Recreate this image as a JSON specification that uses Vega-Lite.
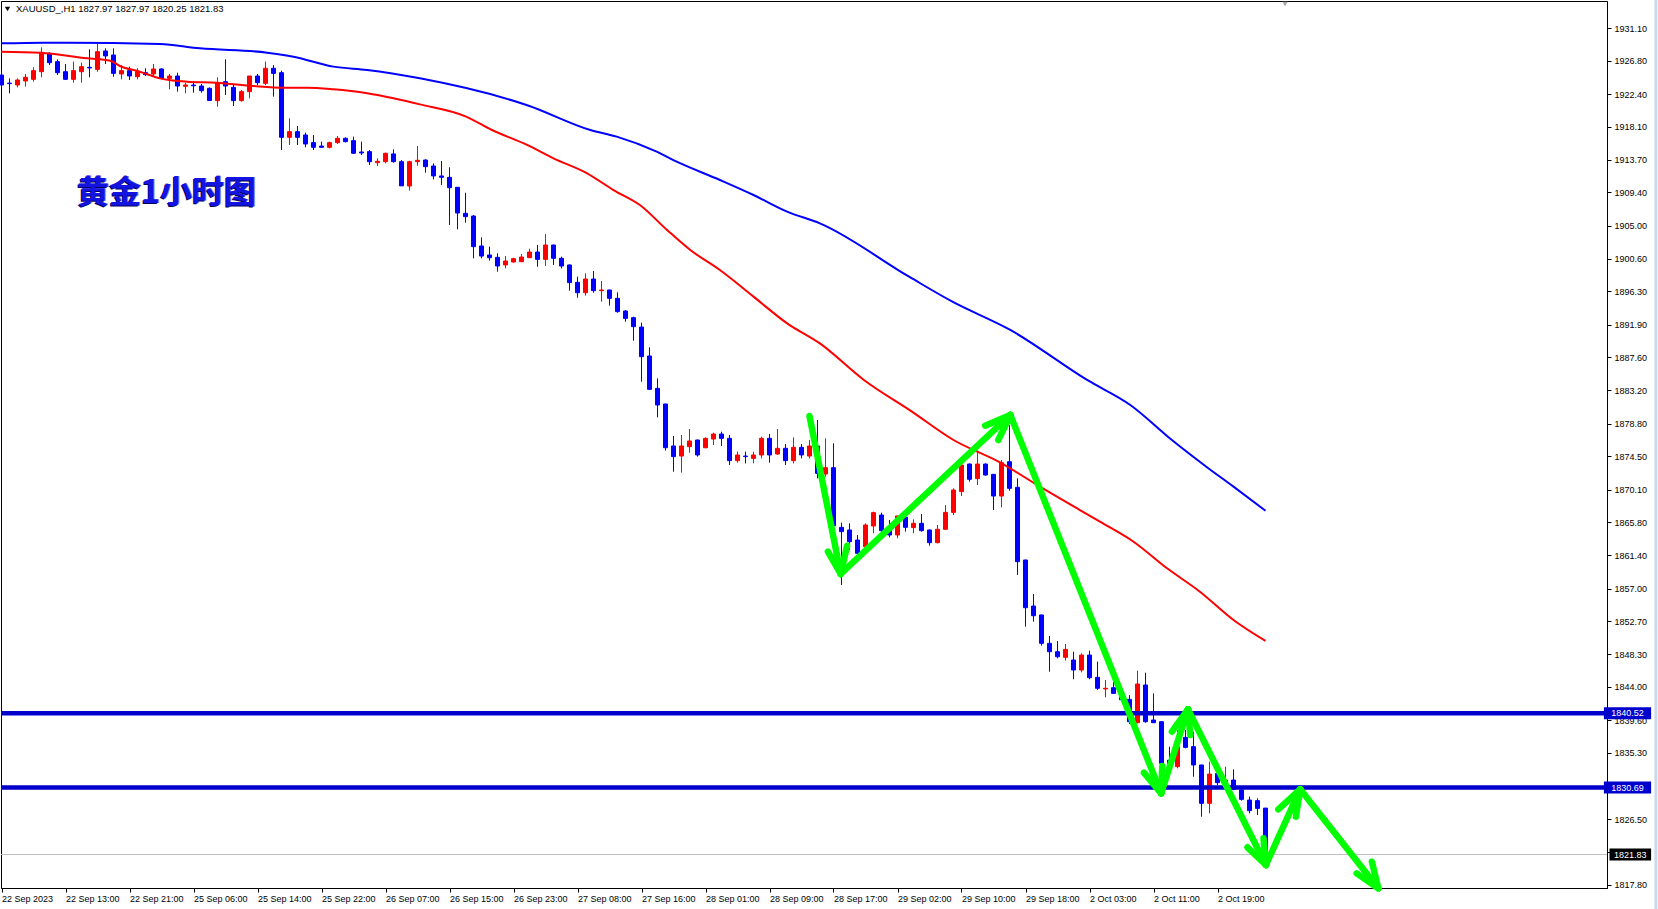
{
  "$schema": "https://vega.github.io/schema/vega-lite/v6.json",
  "width": 1606,
  "height": 887,
  "autosize": {"type": "none"},
  "padding": {"left": 1, "top": 1, "right": 51, "bottom": 21},
  "background": "white",
  "config": {
    "view": {"stroke": "black", "strokeWidth": 1},
    "scale": {"continuousPadding": 0},
    "axis": {"labelFont": "Liberation Sans", "labelFontSize": 9, "labelColor": "black", "domainColor": "black", "tickColor": "black", "grid": false, "title": null, "labelOverlap": false, "labelBound": false, "labelFlush": false}
  },
  "datasets": {
    "candles": [
      {"i":0,"o":1924.92,"h":1925.50,"l":1923.29,"c":1923.60},
      {"i":1,"o":1923.85,"h":1924.48,"l":1922.50,"c":1923.78},
      {"i":2,"o":1923.60,"h":1924.48,"l":1923.29,"c":1924.26},
      {"i":3,"o":1924.13,"h":1925.06,"l":1923.38,"c":1924.62},
      {"i":4,"o":1924.35,"h":1925.94,"l":1924.04,"c":1925.50},
      {"i":5,"o":1925.36,"h":1928.58,"l":1924.62,"c":1927.92},
      {"i":6,"o":1927.79,"h":1927.92,"l":1926.24,"c":1926.55},
      {"i":7,"o":1926.69,"h":1926.99,"l":1924.92,"c":1925.23},
      {"i":8,"o":1925.36,"h":1926.38,"l":1924.26,"c":1924.35},
      {"i":9,"o":1924.35,"h":1926.69,"l":1923.91,"c":1925.50},
      {"i":10,"o":1925.36,"h":1926.55,"l":1923.91,"c":1926.02},
      {"i":11,"o":1925.94,"h":1928.32,"l":1924.62,"c":1925.85},
      {"i":12,"o":1925.67,"h":1929.11,"l":1925.36,"c":1928.01},
      {"i":13,"o":1928.10,"h":1928.45,"l":1926.38,"c":1927.44},
      {"i":14,"o":1927.57,"h":1928.45,"l":1924.70,"c":1925.14},
      {"i":15,"o":1925.06,"h":1926.24,"l":1924.35,"c":1925.50},
      {"i":16,"o":1925.50,"h":1926.02,"l":1924.26,"c":1924.79},
      {"i":17,"o":1924.70,"h":1925.81,"l":1924.35,"c":1925.36},
      {"i":18,"o":1925.23,"h":1925.81,"l":1924.79,"c":1924.97},
      {"i":19,"o":1925.06,"h":1926.38,"l":1924.79,"c":1925.72},
      {"i":20,"o":1925.72,"h":1925.81,"l":1924.35,"c":1924.48},
      {"i":21,"o":1924.48,"h":1925.06,"l":1923.03,"c":1924.79},
      {"i":22,"o":1924.79,"h":1925.23,"l":1922.72,"c":1923.47},
      {"i":23,"o":1923.43,"h":1923.91,"l":1922.50,"c":1923.60},
      {"i":24,"o":1923.60,"h":1924.04,"l":1922.59,"c":1923.50},
      {"i":25,"o":1923.47,"h":1923.73,"l":1922.59,"c":1922.85},
      {"i":26,"o":1923.16,"h":1923.29,"l":1921.53,"c":1921.55},
      {"i":27,"o":1921.53,"h":1924.62,"l":1920.73,"c":1923.91},
      {"i":28,"o":1924.04,"h":1926.99,"l":1922.28,"c":1923.47},
      {"i":29,"o":1923.29,"h":1923.73,"l":1920.82,"c":1921.53},
      {"i":30,"o":1921.53,"h":1922.94,"l":1921.40,"c":1922.72},
      {"i":31,"o":1922.72,"h":1924.79,"l":1921.84,"c":1924.79},
      {"i":32,"o":1924.79,"h":1925.06,"l":1923.60,"c":1923.91},
      {"i":33,"o":1923.82,"h":1926.69,"l":1923.60,"c":1925.81},
      {"i":34,"o":1925.81,"h":1926.24,"l":1922.06,"c":1925.14},
      {"i":35,"o":1925.23,"h":1925.50,"l":1915.00,"c":1916.68},
      {"i":36,"o":1916.68,"h":1919.19,"l":1915.67,"c":1917.43},
      {"i":37,"o":1917.43,"h":1918.18,"l":1915.67,"c":1916.68},
      {"i":38,"o":1916.99,"h":1917.30,"l":1915.36,"c":1915.80},
      {"i":39,"o":1915.98,"h":1916.99,"l":1915.00,"c":1915.36},
      {"i":40,"o":1915.53,"h":1916.11,"l":1915.30,"c":1915.36},
      {"i":41,"o":1915.36,"h":1916.11,"l":1915.22,"c":1915.98},
      {"i":42,"o":1915.98,"h":1916.86,"l":1915.80,"c":1916.55},
      {"i":43,"o":1916.55,"h":1916.68,"l":1916.00,"c":1916.11},
      {"i":44,"o":1916.24,"h":1916.77,"l":1914.48,"c":1914.57},
      {"i":45,"o":1914.74,"h":1916.11,"l":1914.34,"c":1914.61},
      {"i":46,"o":1914.79,"h":1915.00,"l":1913.02,"c":1913.46},
      {"i":47,"o":1913.33,"h":1913.90,"l":1912.89,"c":1913.51},
      {"i":48,"o":1913.46,"h":1914.65,"l":1913.24,"c":1914.57},
      {"i":49,"o":1914.48,"h":1915.09,"l":1913.33,"c":1913.46},
      {"i":50,"o":1913.46,"h":1913.68,"l":1910.24,"c":1910.26},
      {"i":51,"o":1910.24,"h":1913.59,"l":1909.63,"c":1913.46},
      {"i":52,"o":1913.46,"h":1915.53,"l":1912.93,"c":1913.64},
      {"i":53,"o":1913.68,"h":1913.77,"l":1912.01,"c":1912.80},
      {"i":54,"o":1912.89,"h":1913.24,"l":1911.12,"c":1911.57},
      {"i":55,"o":1911.57,"h":1913.55,"l":1910.37,"c":1911.39},
      {"i":56,"o":1911.39,"h":1912.71,"l":1905.08,"c":1910.02},
      {"i":57,"o":1910.07,"h":1910.10,"l":1904.51,"c":1906.67},
      {"i":58,"o":1906.63,"h":1909.36,"l":1905.39,"c":1906.19},
      {"i":59,"o":1906.27,"h":1906.41,"l":1900.68,"c":1902.22},
      {"i":60,"o":1902.31,"h":1903.45,"l":1900.68,"c":1900.98},
      {"i":61,"o":1901.12,"h":1902.22,"l":1900.37,"c":1900.76},
      {"i":62,"o":1900.81,"h":1901.34,"l":1898.91,"c":1899.66},
      {"i":63,"o":1899.80,"h":1900.98,"l":1899.35,"c":1900.32},
      {"i":64,"o":1900.19,"h":1900.76,"l":1900.10,"c":1900.63},
      {"i":65,"o":1900.23,"h":1901.25,"l":1900.19,"c":1900.85},
      {"i":66,"o":1900.76,"h":1901.95,"l":1900.72,"c":1901.51},
      {"i":67,"o":1901.51,"h":1902.44,"l":1899.57,"c":1900.54},
      {"i":68,"o":1900.54,"h":1903.89,"l":1899.66,"c":1902.44},
      {"i":69,"o":1902.44,"h":1902.48,"l":1899.80,"c":1900.68},
      {"i":70,"o":1900.68,"h":1900.90,"l":1899.35,"c":1899.66},
      {"i":71,"o":1899.80,"h":1899.85,"l":1896.40,"c":1897.46},
      {"i":72,"o":1897.50,"h":1898.25,"l":1895.47,"c":1896.13},
      {"i":73,"o":1896.13,"h":1898.69,"l":1895.74,"c":1897.94},
      {"i":74,"o":1897.94,"h":1899.00,"l":1896.13,"c":1896.40},
      {"i":75,"o":1896.40,"h":1897.68,"l":1894.94,"c":1896.49},
      {"i":76,"o":1896.49,"h":1896.52,"l":1894.42,"c":1895.39},
      {"i":77,"o":1895.39,"h":1896.18,"l":1893.49,"c":1893.62},
      {"i":78,"o":1893.71,"h":1893.84,"l":1892.30,"c":1892.74},
      {"i":79,"o":1892.83,"h":1892.96,"l":1889.79,"c":1891.64},
      {"i":80,"o":1891.59,"h":1892.17,"l":1884.36,"c":1887.67},
      {"i":81,"o":1887.76,"h":1888.91,"l":1883.30,"c":1883.35},
      {"i":82,"o":1883.48,"h":1884.80,"l":1879.65,"c":1881.28},
      {"i":83,"o":1881.41,"h":1881.45,"l":1875.24,"c":1875.63},
      {"i":84,"o":1875.86,"h":1877.18,"l":1872.46,"c":1874.45},
      {"i":85,"o":1874.53,"h":1877.31,"l":1872.33,"c":1875.86},
      {"i":86,"o":1875.77,"h":1878.10,"l":1874.97,"c":1876.52},
      {"i":87,"o":1876.65,"h":1876.70,"l":1874.45,"c":1874.67},
      {"i":88,"o":1875.63,"h":1877.00,"l":1875.55,"c":1876.87},
      {"i":89,"o":1876.78,"h":1877.62,"l":1875.99,"c":1877.44},
      {"i":90,"o":1877.44,"h":1877.75,"l":1875.86,"c":1876.87},
      {"i":91,"o":1876.87,"h":1877.31,"l":1873.34,"c":1873.92},
      {"i":92,"o":1873.92,"h":1875.11,"l":1873.65,"c":1874.67},
      {"i":93,"o":1874.53,"h":1875.11,"l":1873.56,"c":1874.45},
      {"i":94,"o":1874.22,"h":1875.11,"l":1873.56,"c":1874.67},
      {"i":95,"o":1874.67,"h":1877.09,"l":1874.22,"c":1876.87},
      {"i":96,"o":1876.87,"h":1877.44,"l":1873.65,"c":1874.67},
      {"i":97,"o":1874.80,"h":1878.10,"l":1874.67,"c":1875.55},
      {"i":98,"o":1875.55,"h":1876.12,"l":1873.34,"c":1873.92},
      {"i":99,"o":1873.92,"h":1876.99,"l":1873.56,"c":1875.68},
      {"i":100,"o":1875.68,"h":1876.12,"l":1874.22,"c":1874.67},
      {"i":101,"o":1874.53,"h":1876.65,"l":1874.22,"c":1875.86},
      {"i":102,"o":1875.86,"h":1879.29,"l":1871.58,"c":1872.24},
      {"i":103,"o":1872.15,"h":1876.87,"l":1871.80,"c":1872.99},
      {"i":104,"o":1872.99,"h":1876.21,"l":1865.00,"c":1865.30},
      {"i":105,"o":1865.10,"h":1865.72,"l":1857.47,"c":1864.53},
      {"i":106,"o":1864.75,"h":1865.63,"l":1862.10,"c":1863.20},
      {"i":107,"o":1863.42,"h":1864.09,"l":1861.44,"c":1861.66},
      {"i":108,"o":1862.54,"h":1865.63,"l":1862.32,"c":1865.41},
      {"i":109,"o":1865.28,"h":1867.17,"l":1864.31,"c":1867.04},
      {"i":110,"o":1866.73,"h":1867.04,"l":1864.31,"c":1864.66},
      {"i":111,"o":1865.19,"h":1866.07,"l":1863.78,"c":1864.09},
      {"i":112,"o":1864.09,"h":1866.65,"l":1863.65,"c":1866.60},
      {"i":113,"o":1866.42,"h":1866.73,"l":1864.53,"c":1865.10},
      {"i":114,"o":1865.06,"h":1866.16,"l":1864.31,"c":1865.63},
      {"i":115,"o":1865.63,"h":1866.86,"l":1864.53,"c":1864.66},
      {"i":116,"o":1864.75,"h":1864.80,"l":1862.68,"c":1863.07},
      {"i":117,"o":1863.07,"h":1865.41,"l":1862.98,"c":1864.84},
      {"i":118,"o":1864.84,"h":1868.05,"l":1864.75,"c":1867.08},
      {"i":119,"o":1867.08,"h":1870.26,"l":1866.73,"c":1870.04},
      {"i":120,"o":1869.82,"h":1873.56,"l":1869.24,"c":1873.34},
      {"i":121,"o":1873.47,"h":1873.56,"l":1871.14,"c":1871.45},
      {"i":122,"o":1871.54,"h":1875.24,"l":1870.70,"c":1873.47},
      {"i":123,"o":1873.47,"h":1873.56,"l":1871.93,"c":1872.02},
      {"i":124,"o":1872.11,"h":1872.15,"l":1867.39,"c":1869.24},
      {"i":125,"o":1869.24,"h":1874.00,"l":1867.74,"c":1873.65},
      {"i":126,"o":1873.78,"h":1878.63,"l":1869.95,"c":1870.26},
      {"i":127,"o":1870.39,"h":1871.58,"l":1858.80,"c":1860.56},
      {"i":128,"o":1860.78,"h":1860.82,"l":1851.96,"c":1854.47},
      {"i":129,"o":1854.69,"h":1856.28,"l":1852.62,"c":1853.41},
      {"i":130,"o":1853.51,"h":1853.55,"l":1849.45,"c":1849.76},
      {"i":131,"o":1849.76,"h":1850.73,"l":1846.01,"c":1848.65},
      {"i":132,"o":1848.65,"h":1850.07,"l":1847.77,"c":1847.99},
      {"i":133,"o":1847.91,"h":1849.67,"l":1847.46,"c":1848.96},
      {"i":134,"o":1847.55,"h":1848.65,"l":1845.00,"c":1846.23},
      {"i":135,"o":1846.23,"h":1848.43,"l":1845.92,"c":1848.21},
      {"i":136,"o":1848.21,"h":1848.79,"l":1845.00,"c":1845.22},
      {"i":137,"o":1845.26,"h":1847.33,"l":1843.59,"c":1843.81},
      {"i":138,"o":1843.72,"h":1844.91,"l":1842.62,"c":1843.81},
      {"i":139,"o":1843.89,"h":1844.69,"l":1843.06,"c":1843.14},
      {"i":140,"o":1842.70,"h":1842.90,"l":1842.10,"c":1842.30},
      {"i":141,"o":1842.35,"h":1842.92,"l":1839.09,"c":1839.39},
      {"i":142,"o":1839.26,"h":1846.14,"l":1839.18,"c":1844.38},
      {"i":143,"o":1844.25,"h":1845.88,"l":1839.26,"c":1839.39},
      {"i":144,"o":1839.62,"h":1843.14,"l":1839.22,"c":1839.26},
      {"i":145,"o":1839.39,"h":1839.48,"l":1833.67,"c":1833.89},
      {"i":146,"o":1834.30,"h":1836.09,"l":1833.30,"c":1833.50},
      {"i":147,"o":1833.45,"h":1838.29,"l":1833.23,"c":1836.09},
      {"i":148,"o":1837.32,"h":1838.29,"l":1835.87,"c":1836.00},
      {"i":149,"o":1836.09,"h":1838.07,"l":1832.12,"c":1833.67},
      {"i":150,"o":1833.67,"h":1833.70,"l":1826.83,"c":1828.60},
      {"i":151,"o":1828.60,"h":1834.11,"l":1827.27,"c":1832.47},
      {"i":152,"o":1832.56,"h":1833.22,"l":1831.02,"c":1831.33},
      {"i":153,"o":1831.24,"h":1833.45,"l":1830.58,"c":1831.68},
      {"i":154,"o":1831.68,"h":1833.09,"l":1830.36,"c":1830.45},
      {"i":155,"o":1830.36,"h":1830.58,"l":1828.95,"c":1829.12},
      {"i":156,"o":1829.04,"h":1829.48,"l":1827.27,"c":1827.63},
      {"i":157,"o":1828.95,"h":1829.26,"l":1827.05,"c":1827.93},
      {"i":158,"o":1827.97,"h":1827.97,"l":1820.25,"c":1821.83}
    ],
    "maRed": [
      {"i":-0.06,"v":1928.01},{"i":4.84,"v":1927.88},{"i":10.7,"v":1927.13},{"i":13.6,"v":1926.82},
      {"i":14.8,"v":1926.11},{"i":17.3,"v":1925.36},{"i":19.8,"v":1924.48},{"i":23.2,"v":1924.04},
      {"i":26.9,"v":1923.91},{"i":31.5,"v":1923.47},{"i":35.3,"v":1923.25},{"i":38.2,"v":1923.25},
      {"i":41.5,"v":1923.03},{"i":45.7,"v":1922.50},{"i":49.0,"v":1921.84},{"i":52.3,"v":1921.04},
      {"i":58.0,"v":1919.46},{"i":61.3,"v":1917.65},{"i":65.7,"v":1915.67},{"i":69.0,"v":1913.90},
      {"i":73.2,"v":1911.92},{"i":76.5,"v":1909.71},{"i":79.8,"v":1907.73},{"i":83.2,"v":1904.42},
      {"i":86.1,"v":1901.78},{"i":89.8,"v":1899.13},{"i":94.0,"v":1895.61},{"i":98.2,"v":1892.08},
      {"i":102.3,"v":1889.43},{"i":107.8,"v":1884.59},{"i":113.8,"v":1880.40},{"i":119.0,"v":1876.65},
      {"i":124.8,"v":1873.70},{"i":129.8,"v":1870.48},{"i":134.8,"v":1867.39},{"i":137.3,"v":1865.85},
      {"i":141.5,"v":1863.20},{"i":145.7,"v":1859.68},{"i":149.8,"v":1856.59},{"i":154.0,"v":1852.84},
      {"i":158.0,"v":1850.07}
    ],
    "maBlue": [
      {"i":-0.06,"v":1929.11},{"i":5.25,"v":1929.20},{"i":8.2,"v":1929.20},{"i":19.8,"v":1929.02},
      {"i":24.8,"v":1928.45},{"i":33.2,"v":1927.88},{"i":36.5,"v":1927.35},{"i":41.5,"v":1926.03},
      {"i":45.7,"v":1925.59},{"i":52.3,"v":1924.48},{"i":65.9,"v":1920.86},{"i":73.6,"v":1917.65},
      {"i":76.9,"v":1916.77},{"i":81.9,"v":1914.78},{"i":84.4,"v":1913.46},{"i":89.8,"v":1911.04},
      {"i":94.0,"v":1909.05},{"i":98.2,"v":1906.85},{"i":102.3,"v":1905.30},{"i":113.5,"v":1898.21},
      {"i":118.8,"v":1894.98},{"i":126.1,"v":1891.21},{"i":135.7,"v":1884.59},{"i":141.1,"v":1881.28},
      {"i":146.3,"v":1876.65},{"i":150.6,"v":1873.12},{"i":154.0,"v":1870.48},{"i":158.0,"v":1867.30}
    ],
    "arrows": [
      {"x":101.0,"y":1879.82,"x2":104.9,"y2":1858.93},
      {"x":104.9,"y":1858.93,"x2":103.3,"y2":1861.88},
      {"x":104.9,"y":1858.93,"x2":105.7,"y2":1862.67},
      {"x":104.9,"y":1858.93,"x2":126.1,"y2":1879.96},
      {"x":126.1,"y":1879.96,"x2":122.96,"y2":1878.54},
      {"x":126.1,"y":1879.96,"x2":124.6,"y2":1876.65},
      {"x":126.1,"y":1879.96,"x2":144.96,"y2":1829.92},
      {"x":144.96,"y":1829.92,"x2":142.8,"y2":1832.65},
      {"x":144.96,"y":1829.92,"x2":145.1,"y2":1833.53},
      {"x":144.96,"y":1829.92,"x2":148.3,"y2":1841.03},
      {"x":148.3,"y":1841.03,"x2":146.3,"y2":1838.07},
      {"x":148.3,"y":1841.03,"x2":148.6,"y2":1837.63},
      {"x":148.3,"y":1841.03,"x2":158.05,"y2":1820.44},
      {"x":158.05,"y":1820.44,"x2":155.75,"y2":1822.78},
      {"x":158.05,"y":1820.44,"x2":157.75,"y2":1823.97},
      {"x":158.05,"y":1820.44,"x2":162.34,"y2":1830.45},
      {"x":162.34,"y":1830.45,"x2":159.6,"y2":1827.81},
      {"x":162.34,"y":1830.45,"x2":161.8,"y2":1826.83},
      {"x":162.34,"y":1830.45,"x2":172.1,"y2":1817.36},
      {"x":172.1,"y":1817.36,"x2":169.4,"y2":1819.34},
      {"x":172.1,"y":1817.36,"x2":171.3,"y2":1820.88}
    ],
    "levels": [{"p":1840.52},{"p":1830.69}],
    "bid": [{"p":1821.83}],
    "boxes": [
      {"x":200.3,"x2":206.2,"y":1839.73,"y2":1841.31,"t":"1840.52","col":"#0000cd","tx":203.25,"ty":1840.52},
      {"x":200.3,"x2":206.2,"y":1829.90,"y2":1831.48,"t":"1830.69","col":"#0000cd","tx":203.25,"ty":1830.69},
      {"x":201.0,"x2":206.2,"y":1821.04,"y2":1822.62,"t":"1821.83","col":"#000000","tx":203.6,"ty":1821.83}
    ],
    "title": [{"x":9.45,"y":1909.32,"t":"黄金1小时图"}],
    "info": [{"x":1.81,"y":1933.59,"t":"XAUUSD_,H1  1827.97 1827.97 1820.25 1821.83"}],
    "tri": [{"x":0.75,"y":1933.65,"col":"#000000"},{"x":160.44,"y":1934.31,"col":"#a8a8a8"}],
    "edge": [{"x":206.8,"y":1934.84,"y2":1814.62}]
  },
  "layer": [
    {
      "data": {"name": "candles"},
      "mark": {"type": "rule", "strokeWidth": 1},
      "encoding": {
        "x": {"field": "i", "type": "quantitative", "scale": {"domain": [-0.0625, 200.6875], "nice": false, "zero": false, "padding": 0},
          "axis": {"orient": "bottom", "values": [0,8,16,24,32,40,48,56,64,72,80,88,96,104,112,120,128,136,144,152], "tickCount": 100, "tickSize": 4, "labelAlign": "left", "labelBaseline": "top", "labelPadding": 2, "labelOverlap": false, "labelFlush": false, "labelBound": false,
            "labelExpr": "['22 Sep 2023','22 Sep 13:00','22 Sep 21:00','25 Sep 06:00','25 Sep 14:00','25 Sep 22:00','26 Sep 07:00','26 Sep 15:00','26 Sep 23:00','27 Sep 08:00','27 Sep 16:00','28 Sep 01:00','28 Sep 09:00','28 Sep 17:00','29 Sep 02:00','29 Sep 10:00','29 Sep 18:00','2 Oct 03:00','2 Oct 11:00','2 Oct 19:00'][round(datum.value/8)]"}},
        "y": {"field": "l", "type": "quantitative", "scale": {"domain": [1817.40, 1934.71], "nice": false, "zero": false},
          "axis": {"orient": "right", "values": [1931.10,1926.80,1922.40,1918.10,1913.70,1909.40,1905.00,1900.60,1896.30,1891.90,1887.60,1883.20,1878.80,1874.50,1870.10,1865.80,1861.40,1857.00,1852.70,1848.30,1844.00,1839.60,1835.30,1830.90,1826.50,1822.20,1817.80], "tickCount": 100, "format": ".2f", "tickSize": 4, "labelPadding": 3, "labelBaseline": "middle", "labelOverlap": false, "labelFlush": false, "labelBound": false}},
        "y2": {"field": "h"},
        "color": {"condition": {"test": "datum.c < datum.o", "value": "#0000ff"}, "value": "#ff0000"}
      }
    },
    {
      "data": {"name": "candles"},
      "mark": {"type": "bar", "size": 4, "strokeWidth": 1},
      "encoding": {
        "x": {"field": "i", "type": "quantitative", "scale": {"domain": [-0.0625, 200.6875], "nice": false, "zero": false, "padding": 0}},
        "y": {"field": "o", "type": "quantitative", "scale": {"domain": [1817.40, 1934.71], "nice": false, "zero": false}},
        "y2": {"field": "c"},
        "fill": {"condition": {"test": "datum.c < datum.o", "value": "#0000ff"}, "value": "#ff0000"},
        "stroke": {"condition": {"test": "datum.c < datum.o", "value": "#0000ff"}, "value": "#ff0000"}
      }
    },
    {
      "data": {"name": "maRed"},
      "mark": {"type": "line", "color": "#ff0000", "strokeWidth": 2, "interpolate": "monotone"},
      "encoding": {
        "x": {"field": "i", "type": "quantitative", "scale": {"domain": [-0.0625, 200.6875], "nice": false, "zero": false, "padding": 0}},
        "y": {"field": "v", "type": "quantitative", "scale": {"domain": [1817.40, 1934.71], "nice": false, "zero": false}}
      }
    },
    {
      "data": {"name": "maBlue"},
      "mark": {"type": "line", "color": "#0000ff", "strokeWidth": 2, "interpolate": "monotone"},
      "encoding": {
        "x": {"field": "i", "type": "quantitative", "scale": {"domain": [-0.0625, 200.6875], "nice": false, "zero": false, "padding": 0}},
        "y": {"field": "v", "type": "quantitative", "scale": {"domain": [1817.40, 1934.71], "nice": false, "zero": false}}
      }
    },
    {
      "data": {"name": "bid"},
      "mark": {"type": "rule", "color": "#c0c0c0", "strokeWidth": 1},
      "encoding": {
        "y": {"field": "p", "type": "quantitative", "scale": {"domain": [1817.40, 1934.71], "nice": false, "zero": false}}
      }
    },
    {
      "data": {"name": "levels"},
      "mark": {"type": "rule", "color": "#0000cd", "strokeWidth": 4.5},
      "encoding": {
        "y": {"field": "p", "type": "quantitative", "scale": {"domain": [1817.40, 1934.71], "nice": false, "zero": false}}
      }
    },
    {
      "data": {"name": "arrows"},
      "mark": {"type": "rule", "color": "#00ff00", "strokeWidth": 6.5, "strokeCap": "round"},
      "encoding": {
        "x": {"field": "x", "type": "quantitative", "scale": {"domain": [-0.0625, 200.6875], "nice": false, "zero": false, "padding": 0}},
        "y": {"field": "y", "type": "quantitative", "scale": {"domain": [1817.40, 1934.71], "nice": false, "zero": false}},
        "x2": {"field": "x2"},
        "y2": {"field": "y2"}
      }
    },
    {
      "data": {"name": "title"},
      "mark": {"type": "text", "font": "Noto Sans CJK SC", "fontWeight": "bold", "fontSize": 32, "align": "left", "baseline": "middle", "color": "#8a7cff", "dx": 1, "dy": 0},
      "encoding": {
        "x": {"field": "x", "type": "quantitative", "scale": {"domain": [-0.0625, 200.6875], "nice": false, "zero": false, "padding": 0}},
        "y": {"field": "y", "type": "quantitative", "scale": {"domain": [1817.40, 1934.71], "nice": false, "zero": false}},
        "text": {"field": "t"}
      }
    },
    {
      "data": {"name": "title"},
      "mark": {"type": "text", "font": "Noto Sans CJK SC", "fontWeight": "bold", "fontSize": 32, "align": "left", "baseline": "middle", "color": "#00005a", "dx": -1, "dy": 1},
      "encoding": {
        "x": {"field": "x", "type": "quantitative", "scale": {"domain": [-0.0625, 200.6875], "nice": false, "zero": false, "padding": 0}},
        "y": {"field": "y", "type": "quantitative", "scale": {"domain": [1817.40, 1934.71], "nice": false, "zero": false}},
        "text": {"field": "t"}
      }
    },
    {
      "data": {"name": "title"},
      "mark": {"type": "text", "font": "Noto Sans CJK SC", "fontWeight": "bold", "fontSize": 32, "align": "left", "baseline": "middle", "color": "#1414e0"},
      "encoding": {
        "x": {"field": "x", "type": "quantitative", "scale": {"domain": [-0.0625, 200.6875], "nice": false, "zero": false, "padding": 0}},
        "y": {"field": "y", "type": "quantitative", "scale": {"domain": [1817.40, 1934.71], "nice": false, "zero": false}},
        "text": {"field": "t"}
      }
    },
    {
      "data": {"name": "info"},
      "mark": {"type": "text", "font": "Liberation Sans", "fontSize": 9.5, "align": "left", "baseline": "middle", "color": "#000000"},
      "encoding": {
        "x": {"field": "x", "type": "quantitative", "scale": {"domain": [-0.0625, 200.6875], "nice": false, "zero": false, "padding": 0}},
        "y": {"field": "y", "type": "quantitative", "scale": {"domain": [1817.40, 1934.71], "nice": false, "zero": false}},
        "text": {"field": "t"}
      }
    },
    {
      "data": {"name": "tri"},
      "mark": {"type": "point", "shape": "triangle-down", "filled": true, "size": 28, "opacity": 1},
      "encoding": {
        "x": {"field": "x", "type": "quantitative", "scale": {"domain": [-0.0625, 200.6875], "nice": false, "zero": false, "padding": 0}},
        "y": {"field": "y", "type": "quantitative", "scale": {"domain": [1817.40, 1934.71], "nice": false, "zero": false}},
        "color": {"field": "col", "type": "nominal", "scale": null}
      }
    },
    {
      "data": {"name": "boxes"},
      "mark": {"type": "rect"},
      "encoding": {
        "x": {"field": "x", "type": "quantitative", "scale": {"domain": [-0.0625, 200.6875], "nice": false, "zero": false, "padding": 0}},
        "x2": {"field": "x2"},
        "y": {"field": "y", "type": "quantitative", "scale": {"domain": [1817.40, 1934.71], "nice": false, "zero": false}},
        "y2": {"field": "y2"},
        "color": {"field": "col", "type": "nominal", "scale": null}
      }
    },
    {
      "data": {"name": "boxes"},
      "mark": {"type": "text", "font": "Liberation Sans", "fontSize": 9, "align": "center", "baseline": "middle", "color": "#ffffff"},
      "encoding": {
        "x": {"field": "tx", "type": "quantitative", "scale": {"domain": [-0.0625, 200.6875], "nice": false, "zero": false, "padding": 0}},
        "y": {"field": "ty", "type": "quantitative", "scale": {"domain": [1817.40, 1934.71], "nice": false, "zero": false}},
        "text": {"field": "t"}
      }
    },
    {
      "data": {"name": "edge"},
      "mark": {"type": "rule", "color": "#c9daf0", "strokeWidth": 3},
      "encoding": {
        "x": {"field": "x", "type": "quantitative", "scale": {"domain": [-0.0625, 200.6875], "nice": false, "zero": false, "padding": 0}},
        "y": {"field": "y", "type": "quantitative", "scale": {"domain": [1817.40, 1934.71], "nice": false, "zero": false}},
        "y2": {"field": "y2"}
      }
    }
  ]
}
